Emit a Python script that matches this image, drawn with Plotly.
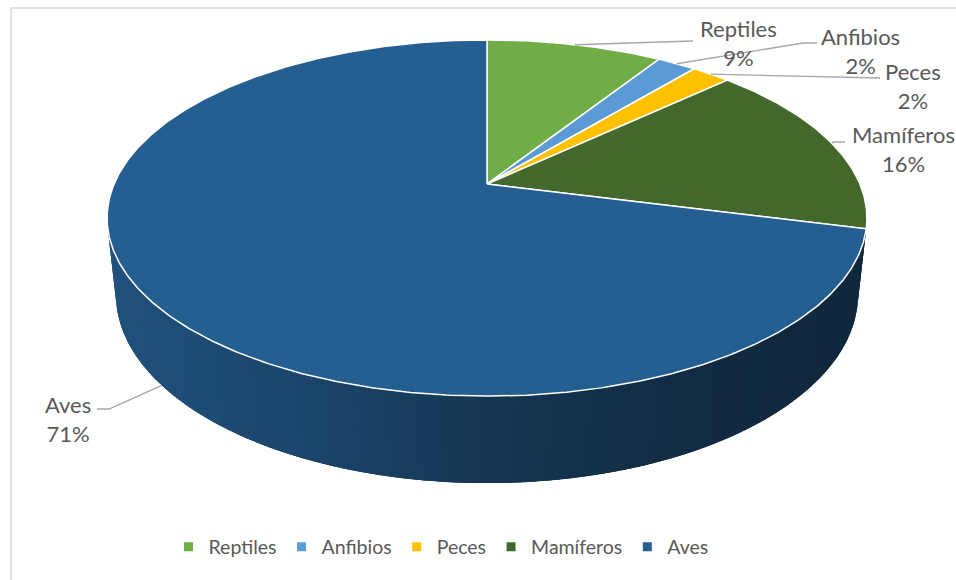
import math
import numpy as np
import plotly.graph_objects as go

# --- data -------------------------------------------------------------
categories = ["Reptiles", "Anfibios", "Peces", "Mamíferos", "Aves"]
percentages = [9, 2, 2, 16, 71]
colors = ["#70AD47", "#5B9BD5", "#FFC000", "#43682B", "#255E91"]

# --- label layout (centre of the two-line label, leader end point) -----
label_pos = [(738, 42.5), (860, 51), (913, 86), (903, 149), (68, 418.5)]
leader_end = [(693, 41), (817, 43), (880, 78), (845, 142), (97, 409)]
elbow_dx = [-14, -14, -14, -12, 12]

W, H = 956, 580
TEXT = "#595959"
FONT = "Lato"

# --- perspective camera for a flat cylinder (radius 1, height THICK) ---
CX, CY = 487.0, 184.0          # screen position of the pie centre
FOCAL = 1734.0
DIST = 4.65
ELEV = math.radians(27.4)
THICK = 0.2335
SA, CA = math.sin(ELEV), math.cos(ELEV)


def project(X, Y, Z):
    depth = DIST - Y * SA - Z * CA
    sx = FOCAL * X / depth
    sy = FOCAL * (Y * CA - Z * SA) / depth
    return CX + sx, CY - sy


def rim(theta, Y=0.0):
    # theta measured clockwise from the far (top) point of the disc
    return project(math.sin(theta), Y, -math.cos(theta))


total = float(sum(percentages))
bounds = np.concatenate([[0.0], np.cumsum(percentages) / total]) * 2 * math.pi


def slice_index(theta):
    for i in range(len(percentages)):
        if bounds[i] <= theta <= bounds[i + 1]:
            return i
    return len(percentages) - 1


def shade(hex_color, f):
    h = hex_color.lstrip("#")
    r, g, b = (int(h[k:k + 2], 16) for k in (0, 2, 4))
    return "rgb(%d,%d,%d)" % (round(r * f), round(g * f), round(b * f))


# darkening of the side wall across the screen (lighter on the left)
shade_x = [110, 300, 490, 680, 870]
shade_f = [0.86, 0.74, 0.57, 0.46, 0.42]


def wall(a, b):
    n = max(2, int(math.degrees(b - a)) + 1)
    th = np.linspace(a, b, n)
    pts = [rim(t) for t in th] + [rim(t, -THICK) for t in th[::-1]]
    pts.append(pts[0])
    return [p[0] for p in pts], [p[1] for p in pts]


fig = go.Figure()

# --- side wall --------------------------------------------------------
# a dark base under the whole visible wall, then overlapping shaded strips
lo, hi = math.pi / 2, 3 * math.pi / 2
bx, by = wall(lo, hi)
fig.add_trace(go.Scatter(
    x=bx, y=by, mode="lines", fill="toself",
    fillcolor=shade(colors[-1], 0.55), line=dict(width=0),
    hoverinfo="skip", showlegend=False))

step = math.radians(1.0)
grid = list(np.arange(lo, hi + 1e-9, step))
grid += [b for b in bounds if lo < b < hi]
grid = sorted(set(round(g, 9) for g in grid))
strips = []
for a, b in zip(grid[:-1], grid[1:]):
    mid = 0.5 * (a + b)
    strips.append((-math.cos(mid), a, b, mid))
strips.sort(key=lambda s: s[0])
for _, a, b, mid in strips:
    i = slice_index(mid)
    # stretch each strip a little into its neighbour to hide seams,
    # but never past the edge of its own slice
    a2 = max(a - 0.4 * step, bounds[i], lo)
    b2 = min(b + 0.4 * step, bounds[i + 1], hi)
    xs, ys = wall(a2, b2)
    xm = rim(mid)[0]
    col = shade(colors[i], float(np.interp(xm, shade_x, shade_f)))
    fig.add_trace(go.Scatter(
        x=xs, y=ys, mode="lines", fill="toself", fillcolor=col,
        line=dict(width=0), hoverinfo="skip", showlegend=False))

# --- top face slices --------------------------------------------------
for i, name in enumerate(categories):
    a, b = bounds[i], bounds[i + 1]
    n = max(4, int(math.degrees(b - a) * 2))
    th = np.linspace(a, b, n)
    pts = [project(0, 0, 0)] + [rim(t) for t in th] + [project(0, 0, 0)]
    fig.add_trace(go.Scatter(
        x=[p[0] for p in pts], y=[p[1] for p in pts], mode="lines",
        fill="toself", fillcolor=colors[i],
        line=dict(color="white", width=1.5), hoverinfo="skip",
        showlegend=False, name=name))

# --- leader lines and data labels --------------------------------------
for i, name in enumerate(categories):
    mid = 0.5 * (bounds[i] + bounds[i + 1])
    front = -math.cos(mid) > 0
    sx, sy = rim(mid, -THICK if front else 0.0)
    ex, ey = leader_end[i]
    fig.add_trace(go.Scatter(
        x=[sx, ex + elbow_dx[i], ex], y=[sy, ey, ey], mode="lines",
        line=dict(color="#A6A6A6", width=1.3), hoverinfo="skip",
        showlegend=False))
    lx, ly = label_pos[i]
    fig.add_annotation(
        x=lx, y=ly, xref="x", yref="y", showarrow=False,
        text=f"{name}<br>{percentages[i]}%", align="center",
        xanchor="center", yanchor="middle",
        font=dict(family=FONT, size=22, color=TEXT))

# --- legend entries ---------------------------------------------------
for i, name in enumerate(categories):
    fig.add_trace(go.Scatter(
        x=[None], y=[None], mode="markers", name=name,
        marker=dict(symbol="square", size=9, color=colors[i]),
        showlegend=True))

fig.update_layout(
    width=W, height=H,
    margin=dict(l=0, r=0, t=0, b=0),
    paper_bgcolor="white", plot_bgcolor="white",
    xaxis=dict(range=[0, W], visible=False, fixedrange=True),
    yaxis=dict(range=[H, 0], visible=False, fixedrange=True),
    hovermode=False,
    legend=dict(orientation="h", x=441 / W, xanchor="center",
                y=1 - 547 / H, yanchor="middle",
                font=dict(family=FONT, size=19.5, color=TEXT),
                itemclick=False, itemdoubleclick=False,
                bgcolor="rgba(0,0,0,0)"),
    shapes=[dict(type="rect", xref="x", yref="y", x0=11, y0=8, x1=W + 40,
                 y1=H + 40, line=dict(color="#D9D9D9", width=1.5),
                 fillcolor="rgba(0,0,0,0)", layer="below")],
)

fig.write_html("out.html")
